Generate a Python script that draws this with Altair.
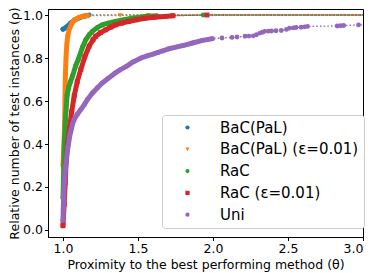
import altair as alt
import pandas as pd

# ---------------- data ----------------
SERIES = ["BaC(PaL)", "BaC(PaL) (ε=0.01)", "RaC", "RaC (ε=0.01)", "Uni"]
COLORS = ["#1f77b4", "#ff7f0e", "#2ca02c", "#d62728", "#9467bd"]
SHAPES = ["circle", "triangle-down", "circle", "square", "circle"]

X_TICKS = [1.0, 1.5, 2.0, 2.5, 3.0]
Y_TICKS = [0.0, 0.2, 0.4, 0.6, 0.8, 1.0]
THETA_MAX = 3.0

# BaC(PaL)
bac_core_theta = [1.0, 1.015, 1.03, 1.05, 1.08, 1.12, 1.15]
bac_core_rho = [0.934, 0.94, 0.948, 0.962, 0.978, 0.99, 0.996]
bac_tail_theta = [1.174]
bac_tail_rho = [1.0]

# BaC(PaL) (eps=0.01)
bace_core_theta = [1.0, 1.005, 1.01, 1.013, 1.016, 1.02, 1.025, 1.031, 1.04, 1.055,
                   1.064, 1.08, 1.108, 1.135, 1.163]
bace_core_rho = [0.3, 0.38, 0.47, 0.6, 0.72, 0.8, 0.86, 0.9, 0.93, 0.955,
                 0.966, 0.978, 0.989, 0.995, 0.997]
bace_tail_theta = [1.382, 1.568]
bace_tail_rho = [0.998, 1.0]

# RaC
rac_core_theta = [1.0, 1.005, 1.01, 1.018, 1.027, 1.04, 1.05, 1.064, 1.085, 1.1,
                  1.13, 1.152, 1.175, 1.196, 1.23, 1.261, 1.3, 1.349, 1.4, 1.458,
                  1.5, 1.546, 1.6, 1.623]
rac_core_rho = [0.15, 0.3, 0.42, 0.53, 0.625, 0.67, 0.69, 0.717, 0.765, 0.79,
                0.85, 0.885, 0.908, 0.924, 0.942, 0.954, 0.962, 0.97, 0.977, 0.985,
                0.989, 0.993, 0.995, 0.996]
rac_tail_theta = [1.935]
rac_tail_rho = [1.0]

# RaC (eps=0.01)
race_core_theta = [1.0, 1.003, 1.008, 1.015, 1.021, 1.03, 1.043, 1.058, 1.075, 1.095,
                   1.119, 1.145, 1.174, 1.2, 1.218, 1.25, 1.284, 1.32, 1.349, 1.39,
                   1.437, 1.49, 1.546, 1.61, 1.678, 1.733]
race_core_rho = [0.02, 0.06, 0.12, 0.22, 0.318, 0.4, 0.472, 0.55, 0.625, 0.69,
                 0.747, 0.805, 0.855, 0.885, 0.901, 0.918, 0.931, 0.944, 0.954, 0.962,
                 0.97, 0.978, 0.985, 0.99, 0.993, 0.997]
race_tail_theta = [1.96]
race_tail_rho = [1.0]

# Uni
uni_core_theta = [1.0, 1.002, 1.005, 1.01, 1.016, 1.021, 1.03, 1.043, 1.054, 1.064,
                  1.075, 1.097, 1.12, 1.141, 1.163, 1.2, 1.23, 1.26, 1.3, 1.34,
                  1.38, 1.42, 1.47, 1.52, 1.56, 1.6, 1.634, 1.67, 1.7, 1.76,
                  1.8, 1.864, 1.93, 1.995]
uni_core_rho = [0.045, 0.1, 0.17, 0.24, 0.28, 0.318, 0.37, 0.43, 0.465, 0.494,
                0.515, 0.54, 0.562, 0.582, 0.607, 0.64, 0.662, 0.683, 0.705, 0.726,
                0.745, 0.76, 0.783, 0.8, 0.81, 0.818, 0.826, 0.834, 0.842, 0.852,
                0.858, 0.87, 0.882, 0.89]
uni_tail_theta = [2.06, 2.127, 2.16, 2.214, 2.24, 2.269, 2.29, 2.313, 2.33, 2.345,
                  2.37, 2.39, 2.42, 2.455, 2.49, 2.51, 2.535, 2.554, 2.587, 2.61,
                  2.63, 2.828, 2.85, 2.871, 2.97]
uni_tail_rho = [0.893, 0.896, 0.898, 0.901, 0.902, 0.903, 0.908, 0.916, 0.92, 0.924,
                0.925, 0.926, 0.927, 0.928, 0.933, 0.939, 0.94, 0.942, 0.943, 0.945,
                0.947, 0.949, 0.95, 0.951, 0.954]

CURVES = [
    (bac_core_theta, bac_core_rho, bac_tail_theta, bac_tail_rho),
    (bace_core_theta, bace_core_rho, bace_tail_theta, bace_tail_rho),
    (rac_core_theta, rac_core_rho, rac_tail_theta, rac_tail_rho),
    (race_core_theta, race_core_rho, race_tail_theta, race_tail_rho),
    (uni_core_theta, uni_core_rho, uni_tail_theta, uni_tail_rho),
]

# ---------------- chart ----------------
FONT = "DejaVu Sans"

x_enc = alt.X(
    "theta:Q",
    scale=alt.Scale(domain=[0.9, 3.0], nice=False, zero=False),
    axis=alt.Axis(values=X_TICKS, format=".1f", grid=False, tickSize=3.5,
                  labelPadding=2, labelFontSize=12.5, titleFontSize=12.5,
                  titleFontWeight="normal", titlePadding=3),
    title="Proximity to the best performing method (θ)",
)
y_enc = alt.Y(
    "rho:Q",
    scale=alt.Scale(domain=[-0.0326, 1.028], nice=False, zero=False),
    axis=alt.Axis(values=Y_TICKS, format=".1f", grid=False, tickSize=3.5,
                  labelPadding=2, labelFontSize=12.5, titleFontSize=12.5,
                  titleFontWeight="normal", titleX=-40, titleBaseline="top"),
    title="Relative number of test instances (ρ)",
)

legend = alt.Legend(
    orient="none", legendX=114, legendY=106, title=None,
    labelFontSize=15, labelFont=FONT, labelColor="black",
    symbolSize=18, symbolStrokeWidth=0, symbolOffset=13,
    labelOffset=25, rowPadding=5.8, padding=5,
    strokeColor="#cccccc", fillColor="white", cornerRadius=3,
)
color_scale = alt.Scale(domain=SERIES, range=COLORS)
shape_scale = alt.Scale(domain=SERIES, range=SHAPES)

layers = []
for name, col, (ct, cr, tt, tr) in zip(SERIES, COLORS, CURVES):
    core = pd.DataFrame({"series": name, "theta": ct, "rho": cr})
    tail = pd.DataFrame({"series": name, "theta": tt, "rho": tr})
    full = pd.concat([core, tail], ignore_index=True)
    ext = pd.concat(
        [full, pd.DataFrame({"series": [name], "theta": [THETA_MAX],
                             "rho": [full["rho"].iloc[-1]]})],
        ignore_index=True,
    )
    dotted = alt.Chart(ext).mark_line(strokeDash=[1.5, 2.2], strokeWidth=1.4,
                                      color=col).encode(
        x=x_enc, y=y_enc, order="theta:Q",
    )
    thick = alt.Chart(core).mark_line(strokeWidth=5, strokeCap="round",
                                      strokeJoin="round", color=col).encode(
        x=x_enc, y=y_enc, order="theta:Q",
    )
    pts = alt.Chart(full).mark_point(filled=True, size=24, opacity=1).encode(
        x=x_enc, y=y_enc,
        color=alt.Color("series:N", scale=color_scale, legend=legend),
        shape=alt.Shape("series:N", scale=shape_scale, legend=legend),
    )
    layers += [dotted, thick, pts]

chart = (
    alt.layer(*layers)
    .properties(
        width=315, height=228,
        padding={"left": 40, "top": 1, "right": 3, "bottom": 36},
        autosize=alt.AutoSizeParams(type="none"),
    )
    .configure(font=FONT)
    .configure_axis(domainColor="black", tickColor="black", labelColor="black",
                    titleColor="black", labelFont=FONT, titleFont=FONT)
    .configure_view(stroke="black", strokeWidth=1)
)

chart.save("out.html", embed_options={"renderer": "svg", "actions": False})
